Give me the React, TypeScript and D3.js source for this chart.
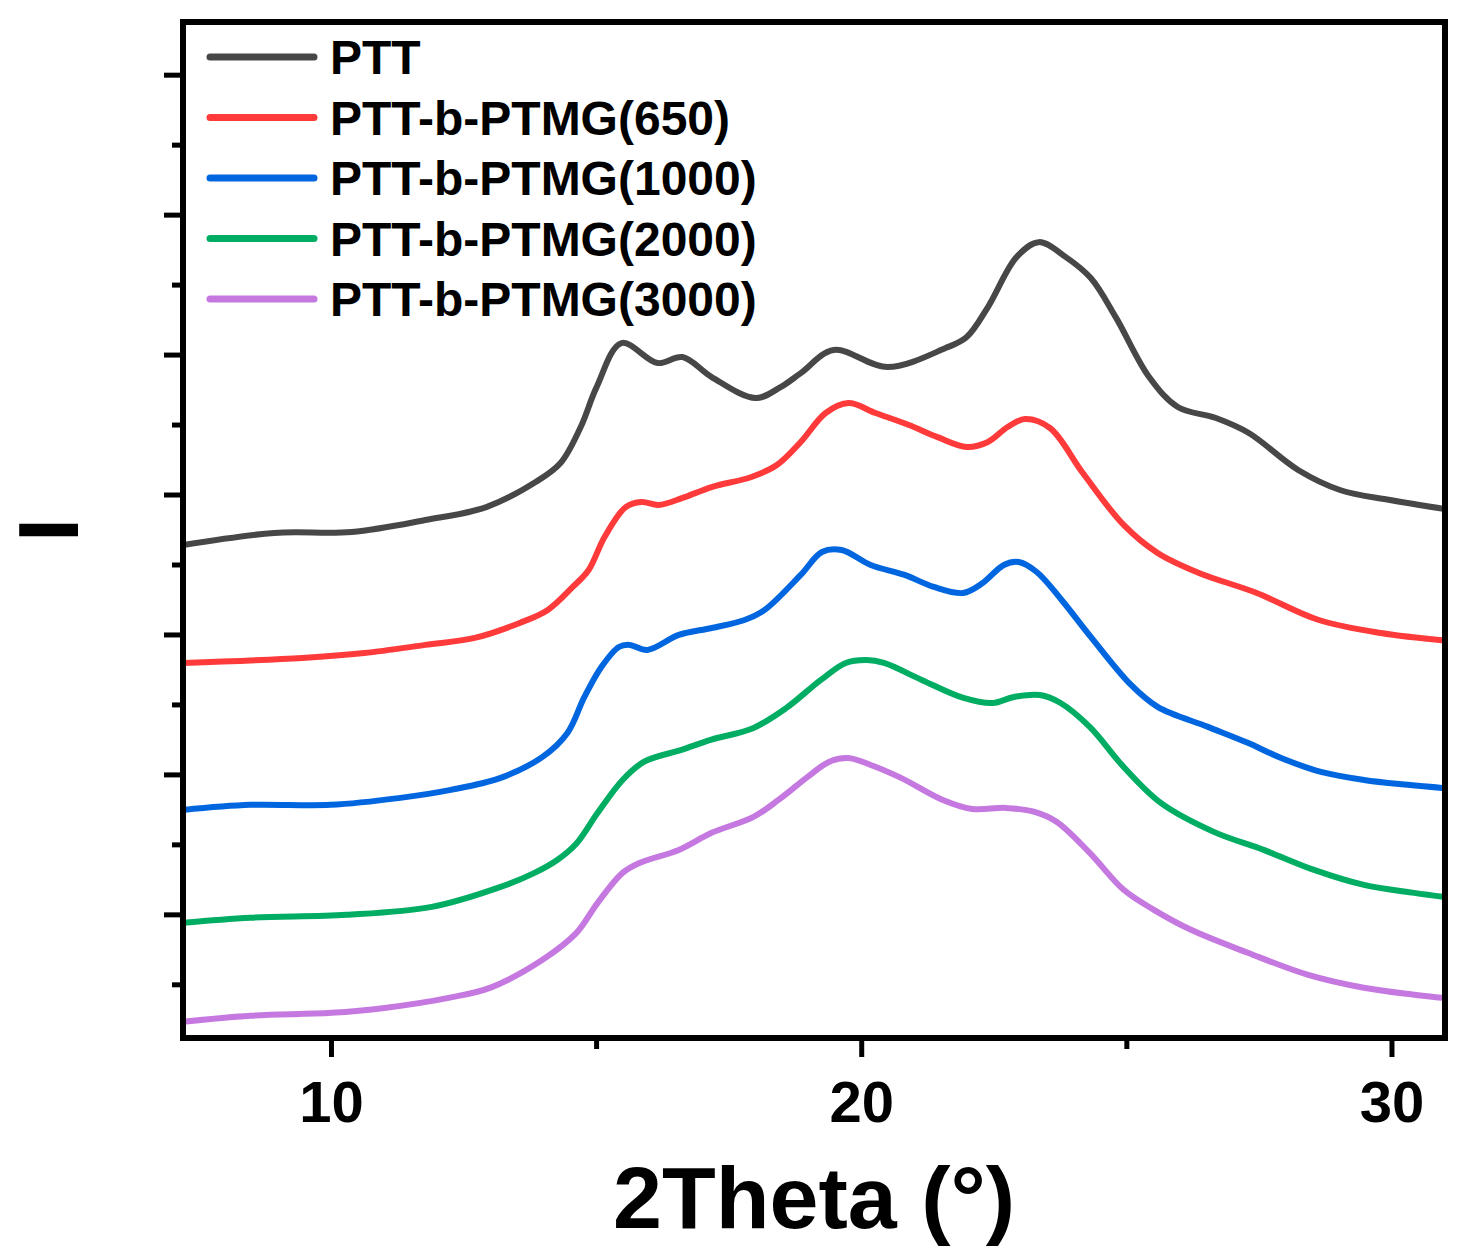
import * as d3 from "d3";

// XRD patterns, stacked (intensity offset in arbitrary units)
const seriesNames = [
  "PTT",
  "PTT-b-PTMG(650)",
  "PTT-b-PTMG(1000)",
  "PTT-b-PTMG(2000)",
  "PTT-b-PTMG(3000)",
];
const seriesColors = ["#474747", "#ff3a3a", "#0066e0", "#00ad63", "#c578e0"];

const pttData: [number, number][] = [
  [7.2, 3.643], [8.92, 3.729], [10.38, 3.736], [11.77, 3.821], [12.92, 3.914],
  [13.85, 4.093], [14.32, 4.229], [14.7, 4.486], [15.0, 4.771], [15.47, 5.086],
  [16.15, 4.943], [16.62, 4.986], [17.17, 4.843], [18.0, 4.693], [18.47, 4.771],
  [18.85, 4.871], [19.47, 5.036], [20.49, 4.914], [21.58, 5.05], [21.98, 5.129],
  [22.38, 5.343], [22.92, 5.7], [23.34, 5.807], [23.85, 5.7], [24.32, 5.55],
  [24.79, 5.271], [25.42, 4.843], [25.96, 4.629], [26.68, 4.55], [27.3, 4.443],
  [28.23, 4.179], [29.02, 4.036], [29.96, 3.964], [31.0, 3.9],
];

const ptmg650Data: [number, number][] = [
  [7.2, 2.8], [9.45, 2.836], [10.62, 2.871], [11.77, 2.929], [12.7, 2.979],
  [13.55, 3.086], [14.08, 3.179], [14.55, 3.343], [14.85, 3.464], [15.15, 3.7],
  [15.55, 3.914], [15.85, 3.95], [16.17, 3.929], [16.62, 3.979], [17.17, 4.057],
  [17.92, 4.129], [18.4, 4.214], [18.85, 4.379], [19.32, 4.586], [19.75, 4.657],
  [20.26, 4.586], [20.89, 4.5], [21.43, 4.414], [21.98, 4.343], [22.38, 4.379],
  [22.75, 4.486], [23.08, 4.543], [23.55, 4.479], [24.17, 4.157], [24.94, 3.786],
  [25.58, 3.586], [26.36, 3.443], [27.45, 3.3], [28.62, 3.107], [29.79, 3.014],
  [31.0, 2.96],
];

const ptmg1000Data: [number, number][] = [
  [7.2, 1.75], [8.47, 1.786], [9.98, 1.786], [11.3, 1.836], [12.25, 1.893],
  [13.19, 1.979], [13.98, 2.129], [14.45, 2.3], [14.77, 2.557], [15.09, 2.771],
  [15.42, 2.914], [15.62, 2.929], [15.96, 2.893], [16.55, 3.0], [17.17, 3.05],
  [17.79, 3.107], [18.17, 3.179], [18.85, 3.429], [19.25, 3.593], [19.62, 3.607],
  [20.17, 3.5], [20.81, 3.429], [21.36, 3.343], [21.91, 3.3], [22.28, 3.371],
  [22.68, 3.5], [22.96, 3.521], [23.3, 3.45], [23.77, 3.25], [24.32, 2.986],
  [25.06, 2.65], [25.58, 2.486], [26.53, 2.343], [27.28, 2.229], [27.91, 2.121],
  [28.66, 2.021], [29.47, 1.964], [30.3, 1.929], [31.0, 1.905],
];

const ptmg2000Data: [number, number][] = [
  [7.2, 0.943], [8.47, 0.979], [10.28, 1.0], [11.89, 1.057], [13.19, 1.2],
  [13.83, 1.3], [14.25, 1.39], [14.62, 1.51], [15.02, 1.729], [15.49, 1.964], [15.89, 2.093],
  [16.6, 2.179], [17.15, 2.25], [17.96, 2.336], [18.58, 2.479], [19.23, 2.679],
  [19.7, 2.8], [20.09, 2.821], [20.42, 2.8], [21.13, 2.679], [21.92, 2.55],
  [22.47, 2.514], [22.87, 2.557], [23.36, 2.571], [23.75, 2.514], [24.3, 2.343],
  [24.94, 2.057], [25.64, 1.8], [26.64, 1.593], [27.58, 1.464], [28.53, 1.321],
  [29.47, 1.214], [30.42, 1.157], [31.0, 1.127],
];

const ptmg3000Data: [number, number][] = [
  [7.2, 0.236], [8.47, 0.279], [10.0, 0.3], [11.0, 0.335], [12.21, 0.407],
  [13.0, 0.48], [13.98, 0.679], [14.62, 0.871], [15.02, 1.086], [15.49, 1.3], [15.81, 1.371],
  [16.55, 1.464], [17.17, 1.586], [17.96, 1.7], [18.43, 1.821], [18.98, 1.986],
  [19.38, 2.093], [19.74, 2.121], [20.17, 2.071], [20.74, 1.979], [21.53, 1.821],
  [22.08, 1.757], [22.72, 1.764], [23.26, 1.736], [23.68, 1.664], [24.3, 1.443],
  [24.94, 1.179], [25.51, 1.036], [26.21, 0.893], [27.28, 0.729], [28.42, 0.571],
  [29.47, 0.479], [30.42, 0.429], [31.0, 0.405],
];

const allSeries = [pttData, ptmg650Data, ptmg1000Data, ptmg2000Data, ptmg3000Data];

const xMajorTicks = [10, 20, 30];
const xMinorTicks = [15, 25];
const yMajorTicks = [1, 2, 3, 4, 5, 6, 7];
const yMinorTicks = [0.5, 1.5, 2.5, 3.5, 4.5, 5.5, 6.5];

const width = 1468;
const height = 1255;
const margin = { top: 22, right: 23, bottom: 217, left: 183 };
const font = "'Liberation Sans', Arial, sans-serif";

function App() {
  const x = d3.scaleLinear().domain([7.2, 31.0]).range([margin.left, width - margin.right]);
  const y = d3.scaleLinear().domain([0.12, 7.38]).range([height - margin.bottom, margin.top]);

  const line = d3
    .line<[number, number]>()
    .x((d) => x(d[0]))
    .y((d) => y(d[1]))
    .curve(d3.curveCatmullRom.alpha(0.5));

  const [x0, x1] = x.range();
  const [y0, y1] = y.range(); // y0 bottom, y1 top

  return (
    <svg width={width} height={height} style={{ display: "block", background: "#fff" }}>
      <style>{`body{margin:0}`}</style>
      <defs>
        <clipPath id="plotClip">
          <rect x={x0} y={y1} width={x1 - x0} height={y0 - y1} />
        </clipPath>
      </defs>

      <g clipPath="url(#plotClip)">
        {allSeries.map((s, i) => (
          <path
            key={seriesNames[i]}
            d={line(s) || ""}
            fill="none"
            stroke={seriesColors[i]}
            strokeWidth={6}
            strokeLinejoin="round"
          />
        ))}
      </g>

      {/* frame */}
      <rect x={x0} y={y1} width={x1 - x0} height={y0 - y1} fill="none" stroke="#000" strokeWidth={6} />

      {/* x ticks */}
      {xMajorTicks.map((t) => (
        <g key={"xm" + t}>
          <line x1={x(t)} x2={x(t)} y1={y0} y2={y0 + 19} stroke="#000" strokeWidth={5} />
          <text
            x={x(t)}
            y={y0 + 84}
            textAnchor="middle"
            fontFamily={font}
            fontWeight="bold"
            fontSize={58}
          >
            {t}
          </text>
        </g>
      ))}
      {xMinorTicks.map((t) => (
        <line key={"xn" + t} x1={x(t)} x2={x(t)} y1={y0} y2={y0 + 11} stroke="#000" strokeWidth={5} />
      ))}

      {/* y ticks */}
      {yMajorTicks.map((t) => (
        <line key={"ym" + t} x1={x0 - 19} x2={x0} y1={y(t)} y2={y(t)} stroke="#000" strokeWidth={5} />
      ))}
      {yMinorTicks.map((t) => (
        <line key={"yn" + t} x1={x0 - 11} x2={x0} y1={y(t)} y2={y(t)} stroke="#000" strokeWidth={5} />
      ))}

      {/* axis titles */}
      <text
        x={(x0 + x1) / 2}
        y={1228}
        textAnchor="middle"
        fontFamily={font}
        fontWeight="bold"
        fontSize={88}
      >
        2Theta (°)
      </text>
      <text
        transform={`translate(78, ${(y0 + y1) / 2}) rotate(-90)`}
        textAnchor="middle"
        fontFamily={font}
        fontWeight="bold"
        fontSize={86}
      >
        I
      </text>

      {/* legend */}
      {seriesNames.map((name, i) => {
        const ly = 57 + i * 60.5;
        return (
          <g key={"lg" + name}>
            <line x1={210} x2={314} y1={ly} y2={ly} stroke={seriesColors[i]} strokeWidth={7} strokeLinecap="round" />
            <text x={330} y={ly + 17} fontFamily={font} fontWeight="bold" fontSize={48}>
              {name}
            </text>
          </g>
        );
      })}
    </svg>
  );
}

export default App;
